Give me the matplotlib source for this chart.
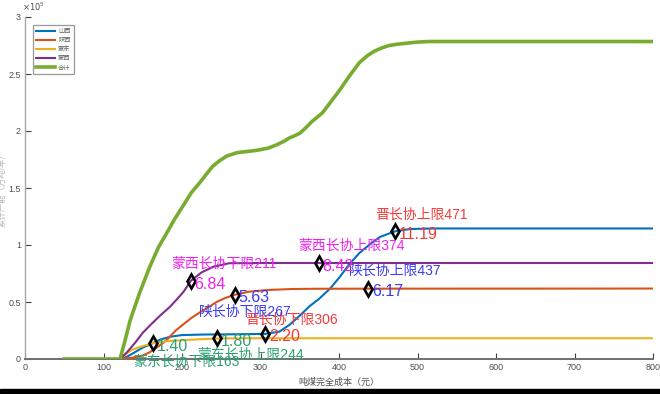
import matplotlib
matplotlib.use("Agg")
import matplotlib.pyplot as plt
from matplotlib.ticker import FuncFormatter, MultipleLocator
from matplotlib.patches import Rectangle

plt.rcParams['font.family'] = ['Liberation Sans', 'Noto Sans CJK SC', 'DejaVu Sans']

# Cumulative capacity (unit: 1e4 t) against full cost per tonne of coal (yuan)
shanxi_x = [50, 121, 130, 140, 150, 160, 172, 185, 200, 230, 270, 306, 324, 337, 350,
            362, 375, 389, 401, 413, 426, 440, 452, 471, 490, 520, 800]
shanxi_y = [0, 0, 0.2, 0.6, 1.0, 1.3, 1.7, 1.95, 2.1, 2.15, 2.17, 2.20, 2.4, 3.0, 3.8,
            4.6, 5.3, 6.2, 7.2, 8.3, 9.3, 10.1, 10.7, 11.19, 11.40, 11.45, 11.45]

shaanxi_x = [50, 121, 135, 150, 159, 170, 181, 192, 201, 212, 223, 235, 244, 255, 267,
             285, 308, 340, 371, 437, 800]
shaanxi_y = [0, 0, 0.1, 0.3, 0.6, 1.1, 1.7, 2.5, 3.0, 3.6, 4.1, 4.6, 5.0, 5.35, 5.63,
             5.9, 6.05, 6.14, 6.16, 6.17, 6.18]

mengdong_x = [50, 121, 128, 136, 146, 163, 180, 200, 220, 244, 280, 800]
mengdong_y = [0, 0, 0.4, 0.8, 1.05, 1.40, 1.55, 1.65, 1.72, 1.80, 1.82, 1.82]

mengxi_x = [50, 121, 130, 140, 150, 160, 172, 185, 193, 202, 211, 225, 240, 260, 300,
            374, 800]
mengxi_y = [0, 0, 0.6, 1.4, 2.3, 3.0, 3.8, 4.6, 5.2, 5.9, 6.84, 7.6, 8.1, 8.4, 8.42,
            8.42, 8.42]

total_x = [50, 121, 127, 134, 146, 159, 170, 181, 190, 201, 212, 223, 232, 239, 248,
           257, 270, 295, 310, 321, 330, 337, 344, 350, 358, 365, 379, 390, 401, 413,
           426, 436, 445, 455, 464, 475, 486, 500, 515, 800]
total_y = [0, 0, 1.5, 3.4, 5.8, 8.1, 9.8, 11.1, 12.2, 13.4, 14.6, 15.5, 16.3, 16.9, 17.4,
           17.8, 18.1, 18.3, 18.5, 18.8, 19.1, 19.4, 19.6, 19.8, 20.3, 20.8, 21.6, 22.6,
           23.6, 24.8, 26.0, 26.6, 27.0, 27.3, 27.5, 27.62, 27.7, 27.8, 27.85, 27.85]

series_names = ['山西', '陕西', '蒙东', '蒙西', '合计']

# Long-term contract price bounds: (name, cost, capacity in 1e4 t)
bound_names = ['蒙东长协下限', '蒙东长协上限', '晋长协下限', '晋长协上限',
               '陕长协下限', '陕长协上限', '蒙西长协下限', '蒙西长协上限']
bound_x = [163, 244, 306, 471, 267, 437, 211, 374]
bound_y = [1.40, 1.80, 2.20, 11.19, 5.63, 6.17, 6.84, 8.42]

SCALE = 1e4

fig = plt.figure(figsize=(6.6, 3.94), dpi=100)
ax = fig.add_axes([25 / 660, 35 / 394, 628 / 660, 342 / 394])

colors = ['#0072BD', '#D95319', '#EDB120', '#7E2F8E', '#77AC30']
xs_all = [shanxi_x, shaanxi_x, mengdong_x, mengxi_x, total_x]
ys_all = [shanxi_y, shaanxi_y, mengdong_y, mengxi_y, total_y]
widths = [1.5, 1.5, 1.5, 1.5, 2.6]
for name, xs, ys, c, lw in zip(series_names, xs_all, ys_all, colors, widths):
    ax.plot(xs, [v * SCALE for v in ys], color=c, lw=lw, label=name, zorder=3,
            solid_joinstyle='round')

label_colors = ['#2ca070', '#2ca070', '#f23a3a', '#f23a3a',
                '#3b3bf0', '#3b3bf0', '#f020f0', '#f020f0']
name_offsets = [(-20, -19), (-19, -16), (-20, 14), (-20, 17),
                (-36, -17), (-19, 18), (-19, 17), (-20, 17)]

ax.plot(bound_x, [v * SCALE for v in bound_y], ls='none', marker='d', ms=7,
        mfc='none', mec='black', mew=1.9, zorder=5)
for nm, bx, by, c, (dx, dy) in zip(bound_names, bound_x, bound_y, label_colors, name_offsets):
    ax.annotate(f'{nm}{bx}', xy=(bx, by * SCALE), xytext=(dx, dy),
                textcoords='offset pixels', ha='left', va='center',
                color=c, fontsize=10, zorder=6)
    ax.annotate(f'{by:.2f}', xy=(bx, by * SCALE), xytext=(4, -3),
                textcoords='offset pixels', ha='left', va='center',
                color=c, fontsize=11.5, zorder=6)

ax.set_xlim(0, 800)
ax.set_ylim(0, 3e5)
ax.xaxis.set_major_locator(MultipleLocator(100))
ax.yaxis.set_major_locator(MultipleLocator(0.5e5))
ax.yaxis.set_major_formatter(FuncFormatter(lambda v, p: f'{v / 1e5:g}'))
ax.tick_params(direction='in', length=4, width=0.8, color='#404040',
               labelcolor='#505050', labelsize=6.5, pad=3)

for s in ('top', 'right'):
    ax.spines[s].set_visible(False)
ax.spines['left'].set_color('#a8a8a8')
ax.spines['left'].set_linewidth(1.0)
ax.spines['bottom'].set_color('#707070')
ax.spines['bottom'].set_linewidth(1.4)

ax.set_xlabel('吨煤完全成本（元）', fontsize=6.5, color='#505050', labelpad=4)
ax.set_ylabel('累计产能（万吨/年）', fontsize=6, color='#b8b8b8')
ax.yaxis.set_label_coords(-0.029, 0.5)

ax.annotate(r'$\times10^{5}$', xy=(0, 1), xycoords='axes fraction', xytext=(-3, 4),
            textcoords='offset pixels', ha='left', va='bottom', fontsize=6,
            color='#505050')

leg = ax.legend(loc='upper left', bbox_to_anchor=(0.008, 0.985), fontsize=4.5,
                frameon=True, fancybox=False, edgecolor='#808080',
                handlelength=3.0, labelspacing=0.6, borderpad=0.5,
                handletextpad=0.5)
leg.get_frame().set_linewidth(0.9)
for t in leg.get_texts():
    t.set_color('#606060')

fig.patches.append(Rectangle((0, 0), 1, 5 / 394, transform=fig.transFigure,
                             color='black', zorder=10))

fig.savefig('out.png', dpi=100)
